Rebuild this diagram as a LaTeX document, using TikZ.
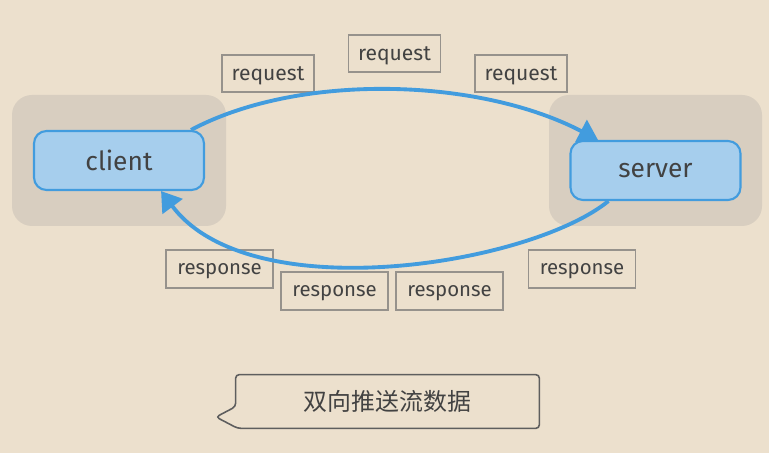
\documentclass[tikz,border=0pt]{standalone}
\usepackage{fontspec}
\setmainfont{Fira Sans}
\newfontfamily\cjkfont{Noto Sans CJK SC}
\usetikzlibrary{arrows.meta}
\definecolor{paper}{RGB}{236,224,205}
\definecolor{groupbg}{RGB}{216,206,192}
\definecolor{nodefill}{RGB}{166,206,237}
\definecolor{flowblue}{RGB}{66,156,222}
\definecolor{inkgray}{RGB}{66,66,66}
\definecolor{tagline}{RGB}{150,146,140}

\begin{document}
\begin{tikzpicture}[every node/.style={text=inkgray},
  group/.style={fill=groupbg,rounded corners=0.4cm},
  endpoint/.style={draw=flowblue,fill=nodefill,line width=1.2pt,rounded corners=0.25cm,minimum width=3.4cm,minimum height=1.18cm,text depth=0pt,font=\fontsize{15}{18}\selectfont},
  reqtag/.style={draw=tagline,line width=0.6pt,minimum width=1.84cm,minimum height=0.74cm,text depth=0pt,font=\fontsize{12}{14}\selectfont},
  resptag/.style={draw=tagline,line width=0.6pt,minimum width=2.14cm,minimum height=0.76cm,text depth=0pt,font=\fontsize{11.6}{14}\selectfont},
  flow/.style={draw=flowblue,line width=2.2pt,-{Triangle[width=14pt,length=11pt]}}]
\fill[paper] (0,0) rectangle (15.38,9.06);
\useasboundingbox (0,0) rectangle (15.38,9.06);
\fill[group] (0.24,4.54) rectangle (4.52,7.16);
\fill[group] (10.98,4.54) rectangle (15.24,7.16);
\node[endpoint] (client) at (2.38,5.85) {client};
\node[endpoint] (server) at (13.11,5.65) {server};
\node[reqtag] (req1) at (5.36,7.59) {request};
\node[reqtag] (req2) at (7.89,7.99) {request};
\node[reqtag] (req3) at (10.42,7.59) {request};
\node[resptag] (resp1) at (4.39,3.68) {response};
\node[resptag] (resp2) at (6.69,3.24) {response};
\node[resptag] (resp3) at (8.99,3.24) {response};
\node[resptag] (resp4) at (11.64,3.68) {response};
\draw[flow] (client.23) .. controls (6.0,7.62) and (9.6,7.5) .. (server.152);
\draw[flow] (server.213) .. controls (10.6,3.76) and (5.0,2.86) .. (client.-36);
\node[minimum width=6.06cm,minimum height=1.06cm,font=\cjkfont\fontsize{13.6}{16}\selectfont] (note) at (7.75,1.03) {双向推送流数据};
\coordinate (tip) at (4.32,0.72);
\draw[inkgray!85,line width=0.9pt,rounded corners=2pt] (note.north west) -- ([yshift=-0.64cm]note.north west) -- (tip) -- ([xshift=0.04cm]note.south west) -- (note.south east) -- (note.north east) -- cycle;
\end{tikzpicture}
\end{document}
